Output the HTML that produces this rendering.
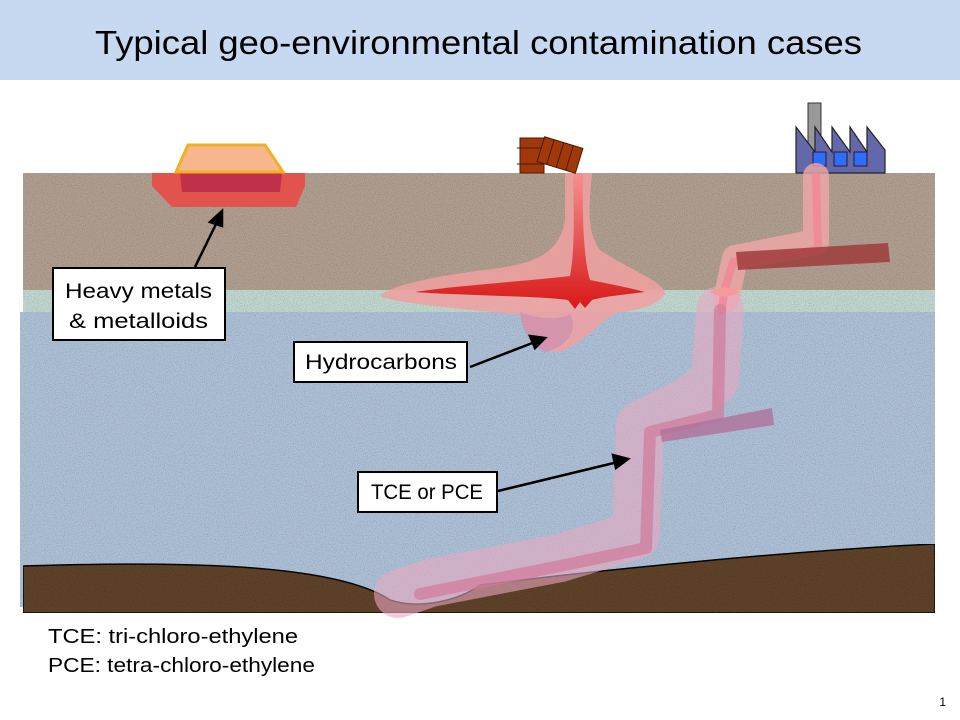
<!DOCTYPE html>
<html><head><meta charset="utf-8"><style>
html,body{margin:0;padding:0;background:#fff;width:960px;height:720px;overflow:hidden}
svg{display:block}
</style></head><body>
<svg width="960" height="720" viewBox="0 0 960 720" xmlns="http://www.w3.org/2000/svg">
<defs>
<filter id="n" x="0" y="0" width="100%" height="100%">
<feTurbulence type="fractalNoise" baseFrequency="0.9" numOctaves="2" seed="3" result="t"/>
<feColorMatrix in="t" type="matrix" values="0 0 0 0 0  0 0 0 0 0  0 0 0 0 0  0 0 0 0.7 -0.3" result="a"/>
<feComposite in="a" in2="SourceGraphic" operator="in" result="d"/>
<feMerge><feMergeNode in="SourceGraphic"/><feMergeNode in="d"/></feMerge>
</filter>
<linearGradient id="hc" x1="0" y1="0" x2="0" y2="1"><stop offset="0" stop-color="#f59090"/><stop offset="1" stop-color="#d81818"/></linearGradient>
</defs>
<rect x="0" y="0" width="960" height="80" fill="#c6d9f0"/>
<text x="95" y="54" font-family="Liberation Sans, sans-serif" font-size="33" textLength="767" lengthAdjust="spacingAndGlyphs" fill="#000">Typical geo-environmental contamination cases</text>

<!-- soil -->
<rect x="23" y="173" width="912" height="119" fill="#b09f90" filter="url(#n)"/>
<rect x="23" y="290" width="912" height="23" fill="#c0d6cf" filter="url(#n)"/>
<rect x="20" y="312" width="915" height="295" fill="#adc0d6" filter="url(#n)"/>
<!-- bedrock -->
<path d="M23,566 C150,562 330,560 390,600 C420,610 460,600 480,585 C600,570 800,550 935,544 L935,613 L23,613 Z" fill="#5e4329" stroke="#111" stroke-width="1.5" filter="url(#n)"/>

<!-- landfill -->
<polygon points="152,173 305,173 305,186 296,207 172,207 152,186" fill="#e2534d"/>
<polygon points="180,173 282,173 280,192 182,192" fill="#c0304a"/>
<polygon points="188,145 265,145 283,172 176,172" fill="#f8b68f" stroke="#f0b020" stroke-width="3"/>

<!-- hydrocarbon plume -->
<path d="M565,173 L592,173 C590,200 585,230 600,250 C630,270 660,280 665,292 C660,305 640,310 620,312 C600,318 590,340 560,352 C545,354 530,340 520,315 C480,310 400,305 380,296 C390,285 440,275 500,268 C540,262 560,250 565,220 Z" fill="#f0a0a0" opacity="0.85"/>
<path d="M520,312 C540,320 560,320 570,314 C580,330 565,348 545,352 C530,345 522,330 520,312 Z" fill="#d090b0" opacity="0.8"/>
<path d="M573,173 L583,173 C582,220 584,260 590,280 C610,284 630,288 645,292 C630,294 605,296 592,300 L585,308 L580,302 L575,309 L568,300 C540,296 450,295 415,292 C460,285 530,281 570,276 C575,250 574,210 573,173 Z" fill="url(#hc)"/>

<!-- barrels -->
<rect x="520" y="138" width="24" height="35" fill="#a0380a" stroke="#4a1a05" stroke-width="1"/>
<line x1="517" y1="148" x2="547" y2="148" stroke="#4a1a05"/><line x1="517" y1="164" x2="547" y2="164" stroke="#4a1a05"/>
<g transform="translate(560,155) rotate(17)"><rect x="-20" y="-13" width="40" height="26" fill="#a0380a" stroke="#4a1a05"/>
<line x1="-10" y1="-13" x2="-10" y2="13" stroke="#4a1a05"/><line x1="0" y1="-13" x2="0" y2="13" stroke="#4a1a05"/><line x1="10" y1="-13" x2="10" y2="13" stroke="#4a1a05"/></g>

<!-- factory -->
<rect x="808" y="103" width="13" height="50" fill="#999" stroke="#333"/>
<path d="M796,173 L796,127 L815,152 L815,127 L832,152 L832,127 L850,152 L850,127 L867,152 L867,127 L885,150 L885,173 Z" fill="#6468a8" stroke="#222" stroke-width="1.2"/>
<rect x="813" y="152" width="13" height="14" fill="#2f6cff" stroke="#222"/>
<rect x="834" y="152" width="13" height="14" fill="#2f6cff" stroke="#222"/>
<rect x="854" y="152" width="13" height="14" fill="#2f6cff" stroke="#222"/>

<!-- TCE plume -->
<g fill="none" stroke-linejoin="round" stroke-linecap="round">
<path d="M816,176 L816,242 L735,258 L726,300" stroke="#f0a8a8" stroke-width="26" opacity="0.8"/>
<path d="M720,310 L715,380 L690,400 L640,425 L636,535 L560,558 L430,583 L398,594" stroke="#e8a8c0" stroke-width="48" opacity="0.6"/>
<path d="M816,176 L818,250 L733,262 L724,292 L722,310" stroke="#f28a96" stroke-width="8" opacity="0.9"/>
<path d="M720,310 L718,415 L650,432 L646,548 L560,566 L420,594" stroke="#d27a9a" stroke-width="12" opacity="0.7"/>
</g>
<path d="M710,292 C720,286 730,286 740,292 C730,298 720,298 710,292 Z" fill="#f59a9a"/>
<path d="M736,252 L888,243 L890,262 L738,270 Z" fill="#9e3c3c" opacity="0.85"/>
<path d="M660,430 L772,408 L774,425 L662,442 Z" fill="#b0709a" opacity="0.8"/>

<!-- labels -->
<g font-family="Liberation Sans, sans-serif" font-size="21" fill="#000">
<rect x="53" y="268" width="172" height="72" fill="#fff" stroke="#000" stroke-width="2"/>
<text x="65" y="298" textLength="147" lengthAdjust="spacingAndGlyphs">Heavy metals</text>
<text x="69" y="328" textLength="139" lengthAdjust="spacingAndGlyphs">&amp; metalloids</text>
<rect x="294" y="342" width="173" height="40" fill="#fff" stroke="#000" stroke-width="2"/>
<text x="305" y="369" textLength="152" lengthAdjust="spacingAndGlyphs">Hydrocarbons</text>
<rect x="358" y="472" width="139" height="40" fill="#fff" stroke="#000" stroke-width="2"/>
<text x="371" y="499" textLength="112" lengthAdjust="spacingAndGlyphs">TCE or PCE</text>
</g>
<g stroke="#000" stroke-width="2.5" fill="#000">
<line x1="195" y1="267" x2="218" y2="220"/><polygon points="222,211 210,222 222,226"/>
<line x1="470" y1="367" x2="535" y2="342"/><polygon points="545,338 530,336 535,348"/>
<line x1="498" y1="491" x2="618" y2="462"/><polygon points="628,459 613,455 616,468"/>
</g>

<g font-family="Liberation Sans, sans-serif" font-size="20" fill="#000">
<text x="48" y="643" textLength="250" lengthAdjust="spacingAndGlyphs">TCE: tri-chloro-ethylene</text>
<text x="48" y="672" textLength="267" lengthAdjust="spacingAndGlyphs">PCE: tetra-chloro-ethylene</text>
</g>
<text x="946" y="706" font-family="Liberation Sans, sans-serif" font-size="12" text-anchor="end">1</text>
</svg>
</body></html>
